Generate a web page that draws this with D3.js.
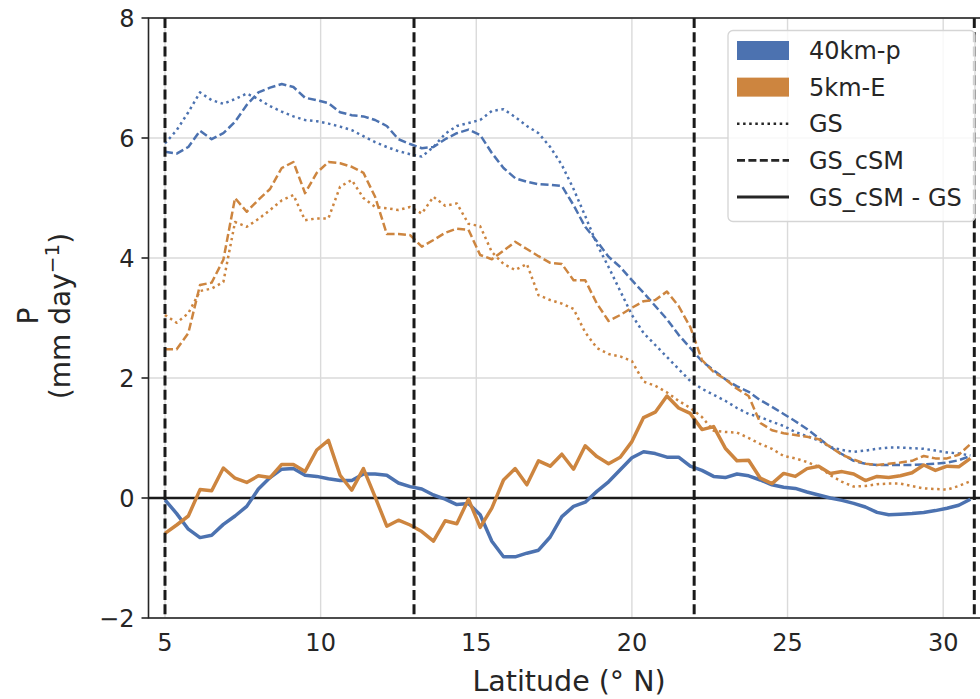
<!DOCTYPE html>
<html>
<head>
<meta charset="utf-8">
<script src="https://cdn.jsdelivr.net/npm/d3@7"></script>
<style>
  body { margin: 0; background: #fff; }
  svg text { font-family: "DejaVu Sans", sans-serif; fill: #262626; }
</style>
</head>
<body>
<div id="main"></div>
<script>

// latitude of each model row (degrees N)
var lat = [5, 5.375, 5.75, 6.125, 6.5, 6.875, 7.25, 7.625, 8, 8.375, 8.75, 9.125, 9.5, 9.875,
  10.25, 10.625, 11, 11.375, 11.75, 12.125, 12.5, 12.875, 13.25, 13.625, 14, 14.375, 14.75,
  15.125, 15.5, 15.875, 16.25, 16.625, 17, 17.375, 17.75, 18.125, 18.5, 18.875, 19.25, 19.625,
  20, 20.375, 20.75, 21.125, 21.5, 21.875, 22.25, 22.625, 23, 23.375, 23.75, 24.125, 24.5,
  24.875, 25.25, 25.625, 26, 26.375, 26.75, 27.125, 27.5, 27.875, 28.25, 28.625, 29, 29.375,
  29.75, 30.125, 30.5, 30.875];

// 40km-p
var gs40 = [5.91, 6.13, 6.43, 6.76, 6.63, 6.57, 6.65, 6.74, 6.65, 6.53, 6.44, 6.36, 6.30, 6.28,
  6.24, 6.19, 6.13, 6.03, 5.93, 5.85, 5.78, 5.73, 5.69, 5.85, 6.07, 6.20, 6.25, 6.30, 6.45,
  6.48, 6.35, 6.20, 6.08, 5.85, 5.55, 5.15, 4.70, 4.23, 3.85, 3.45, 3.05, 2.75, 2.55, 2.35,
  2.15, 1.95, 1.82, 1.72, 1.62, 1.50, 1.40, 1.35, 1.27, 1.20, 1.10, 1.03, 0.96, 0.85, 0.80,
  0.77, 0.79, 0.82, 0.84, 0.84, 0.83, 0.82, 0.79, 0.76, 0.74, 0.71];
var csm40 = [5.77, 5.74, 5.85, 6.12, 5.98, 6.08, 6.27, 6.55, 6.76, 6.84, 6.90, 6.85, 6.67, 6.63,
  6.58, 6.43, 6.38, 6.36, 6.30, 6.20, 5.98, 5.90, 5.83, 5.85, 5.98, 6.08, 6.14, 6.05, 5.75,
  5.50, 5.33, 5.27, 5.23, 5.22, 5.20, 4.88, 4.52, 4.28, 4.02, 3.85, 3.63, 3.42, 3.20, 2.98,
  2.72, 2.50, 2.28, 2.13, 1.98, 1.86, 1.77, 1.63, 1.52, 1.40, 1.28, 1.15, 1.00, 0.85, 0.73,
  0.62, 0.57, 0.55, 0.55, 0.55, 0.55, 0.56, 0.57, 0.59, 0.63, 0.70];
var diff40 = [-0.03, -0.26, -0.52, -0.66, -0.62, -0.44, -0.30, -0.14, 0.15, 0.34, 0.48, 0.49,
  0.38, 0.36, 0.32, 0.29, 0.29, 0.40, 0.40, 0.38, 0.25, 0.19, 0.15, 0.05, -0.02, -0.11, -0.09,
  -0.28, -0.72, -0.98, -0.98, -0.92, -0.87, -0.65, -0.31, -0.14, -0.07, 0.11, 0.27, 0.47, 0.67,
  0.77, 0.74, 0.68, 0.68, 0.53, 0.46, 0.36, 0.34, 0.40, 0.37, 0.30, 0.22, 0.18, 0.16, 0.10,
  0.05, 0.00, -0.04, -0.09, -0.15, -0.24, -0.28, -0.27, -0.26, -0.24, -0.21, -0.17, -0.12, -0.02];

// 5km-E
var gs5 = [3.05, 2.92, 3.08, 3.45, 3.49, 3.60, 4.60, 4.52, 4.65, 4.80, 4.96, 5.05, 4.63, 4.66,
  4.66, 5.19, 5.30, 5.00, 4.85, 4.83, 4.80, 4.85, 4.74, 5.02, 4.87, 4.91, 4.57, 4.53, 4.10,
  3.90, 3.80, 3.90, 3.38, 3.30, 3.24, 3.15, 2.76, 2.50, 2.40, 2.36, 2.28, 1.94, 1.87, 1.76,
  1.62, 1.50, 1.35, 1.12, 1.10, 1.09, 1.00, 0.90, 0.82, 0.70, 0.66, 0.60, 0.52, 0.38, 0.27,
  0.19, 0.20, 0.23, 0.24, 0.24, 0.20, 0.16, 0.15, 0.14, 0.20, 0.28];
var csm5 = [2.48, 2.48, 2.75, 3.55, 3.59, 3.97, 5.00, 4.77, 4.97, 5.15, 5.50, 5.60, 5.08, 5.42,
  5.60, 5.58, 5.52, 5.42, 5.02, 4.40, 4.40, 4.38, 4.19, 4.30, 4.42, 4.49, 4.47, 4.05, 3.98,
  4.12, 4.27, 4.15, 4.03, 3.92, 3.90, 3.63, 3.63, 3.24, 2.95, 3.05, 3.17, 3.28, 3.30, 3.44,
  3.20, 2.85, 2.30, 2.10, 1.98, 1.82, 1.70, 1.25, 1.13, 1.08, 1.05, 1.02, 0.98, 0.85, 0.72,
  0.64, 0.57, 0.55, 0.57, 0.59, 0.62, 0.70, 0.66, 0.66, 0.72, 0.90];
var diff5 = [-0.59, -0.45, -0.30, 0.14, 0.12, 0.50, 0.33, 0.26, 0.37, 0.34, 0.56, 0.56, 0.44,
  0.80, 0.96, 0.38, 0.13, 0.49, 0.02, -0.47, -0.37, -0.45, -0.56, -0.72, -0.38, -0.43, -0.02,
  -0.49, -0.17, 0.30, 0.49, 0.22, 0.62, 0.53, 0.73, 0.48, 0.87, 0.69, 0.57, 0.68, 0.94, 1.34,
  1.43, 1.70, 1.50, 1.41, 1.14, 1.19, 0.83, 0.62, 0.63, 0.33, 0.24, 0.41, 0.36, 0.49, 0.53,
  0.41, 0.44, 0.40, 0.29, 0.36, 0.34, 0.37, 0.42, 0.55, 0.46, 0.53, 0.52, 0.66];

var regionEdges = [5, 13, 22, 31];
var xTicks = [5, 10, 15, 20, 25, 30];
var yTicks = [-2, 0, 2, 4, 6, 8];

var models = ["40km-p", "5km-E"];
var modelColors = ["#4c72b0", "#cd853f"];
var styleNames = ["GS", "GS_cSM", "GS_cSM - GS"];


var width = 980, height = 699;
var plot = { left: 148.5, right: 988, top: 18, bottom: 618 };

var svg = d3.select('#main')
  .append("svg")
  .attr('width', width)
  .attr('height', height);

var xScale = d3.scaleLinear().domain([4.47, 31.44]).range([plot.left, plot.right]);
var yScale = d3.scaleLinear().domain([-2, 8]).range([plot.bottom, plot.top]);

var color = d3.scaleOrdinal().domain(models).range(modelColors);

svg.append("clipPath").attr("id", "clip")
  .append("rect")
  .attr("x", plot.left).attr("y", plot.top)
  .attr("width", plot.right - plot.left).attr("height", plot.bottom - plot.top);

// grid
svg.append("g")
  .selectAll("line")
  .data(xTicks)
  .enter().append("line")
  .attr("x1", d => xScale(d)).attr("x2", d => xScale(d))
  .attr("y1", plot.top).attr("y2", plot.bottom)
  .attr("stroke", "#dadada").attr("stroke-width", 1.4);

svg.append("g")
  .selectAll("line")
  .data(yTicks)
  .enter().append("line")
  .attr("x1", plot.left).attr("x2", plot.right)
  .attr("y1", d => yScale(d)).attr("y2", d => yScale(d))
  .attr("stroke", "#dadada").attr("stroke-width", 1.4);

// zero line
svg.append("line")
  .attr("x1", plot.left).attr("x2", plot.right)
  .attr("y1", yScale(0)).attr("y2", yScale(0))
  .attr("stroke", "#1a1a1a").attr("stroke-width", 2.4);

var line = d3.line()
  .x((d, i) => xScale(lat[i]))
  .y(d => yScale(d));

var series = [
  { values: gs40, model: "40km-p", dash: "2.5,3.6", w: 2.5 },
  { values: gs5, model: "5km-E", dash: "2.5,3.6", w: 2.5 },
  { values: csm40, model: "40km-p", dash: "8,3.4", w: 2.5 },
  { values: csm5, model: "5km-E", dash: "8,3.4", w: 2.5 },
  { values: diff40, model: "40km-p", dash: null, w: 3.5 },
  { values: diff5, model: "5km-E", dash: null, w: 3.5 }
];

var lines = svg.append("g").attr("clip-path", "url(#clip)");

lines.selectAll("path")
  .data(series)
  .enter().append("path")
  .attr("d", d => line(d.values))
  .attr("fill", "none")
  .attr("stroke", d => color(d.model))
  .attr("stroke-width", d => d.w)
  .attr("stroke-dasharray", d => d.dash)
  .attr("stroke-linejoin", "round");

// region boundaries
svg.append("g")
  .selectAll("line")
  .data(regionEdges)
  .enter().append("line")
  .attr("x1", d => xScale(d)).attr("x2", d => xScale(d))
  .attr("y1", plot.top).attr("y2", plot.bottom)
  .attr("stroke", "#1a1a1a").attr("stroke-width", 3)
  .attr("stroke-dasharray", "10,4.3");

// spines
svg.append("rect")
  .attr("x", plot.left).attr("y", plot.top)
  .attr("width", plot.right - plot.left).attr("height", plot.bottom - plot.top)
  .attr("fill", "none").attr("stroke", "#262626").attr("stroke-width", 1.6);

// y ticks
var yAxis = svg.append("g");
yAxis.selectAll("line")
  .data(yTicks)
  .enter().append("line")
  .attr("x1", plot.left - 7).attr("x2", plot.left)
  .attr("y1", d => yScale(d)).attr("y2", d => yScale(d))
  .attr("stroke", "#262626").attr("stroke-width", 1.6);
yAxis.selectAll("text")
  .data(yTicks)
  .enter().append("text")
  .attr("x", plot.left - 14)
  .attr("y", d => yScale(d))
  .attr("dy", "0.36em")
  .style("text-anchor", "end")
  .style("font-size", "24px")
  .text(d => d < 0 ? "\u2212" + Math.abs(d) : d);

svg.append("g")
  .selectAll("text")
  .data(xTicks)
  .enter().append("text")
  .attr("x", d => xScale(d))
  .attr("y", plot.bottom + 33)
  .style("text-anchor", "middle")
  .style("font-size", "24px")
  .text(d => d);

// axis labels
svg.append("text")
  .attr("x", 569)
  .attr("y", 691)
  .style("text-anchor", "middle")
  .style("font-size", "28.5px")
  .text("Latitude (\u00b0 N)");

var ylab = svg.append("text")
  .attr("transform", "translate(0,316) rotate(-90)")
  .style("text-anchor", "middle")
  .style("font-size", "28px");
ylab.append("tspan").attr("x", 0).attr("y", 38).text("P");
ylab.append("tspan").attr("x", 0).attr("y", 70).text("(mm day");
ylab.append("tspan").attr("dy", -11).style("font-size", "20px").text("\u22121");
ylab.append("tspan").attr("dy", 11).text(")");

// legend
var legend = svg.append("g").attr("transform", "translate(728,30.5)");
legend.append("rect")
  .attr("width", 247).attr("height", 191)
  .attr("rx", 5)
  .attr("fill", "#fff").attr("fill-opacity", 0.8)
  .attr("stroke", "#d5d5d5").attr("stroke-width", 1.3);

var rowY = d3.scaleLinear().domain([0, 4]).range([20, 166.5]);

legend.selectAll(".legend-rect")
  .data(models)
  .enter().append("rect")
  .attr("class", "legend-rect")
  .attr("x", 9).attr("y", (d, i) => rowY(i) - 9.5)
  .attr("width", 52).attr("height", 19)
  .attr("fill", d => color(d));

var styleDash = ["2.5,3.6", "8,3.4", null];
legend.selectAll(".legend-line")
  .data(styleNames)
  .enter().append("line")
  .attr("class", "legend-line")
  .attr("x1", 9).attr("x2", 61)
  .attr("y1", (d, i) => rowY(i + 2)).attr("y2", (d, i) => rowY(i + 2))
  .attr("stroke", "#262626")
  .attr("stroke-width", (d, i) => i === 2 ? 3.2 : 2.6)
  .attr("stroke-dasharray", (d, i) => styleDash[i]);

legend.selectAll(".legend-text")
  .data(models.concat(styleNames))
  .enter().append("text")
  .attr("class", "legend-text")
  .attr("x", 81)
  .attr("y", (d, i) => rowY(i))
  .attr("dy", "0.36em")
  .style("font-size", "24px")
  .text(d => d);

</script>
</body>
</html>
